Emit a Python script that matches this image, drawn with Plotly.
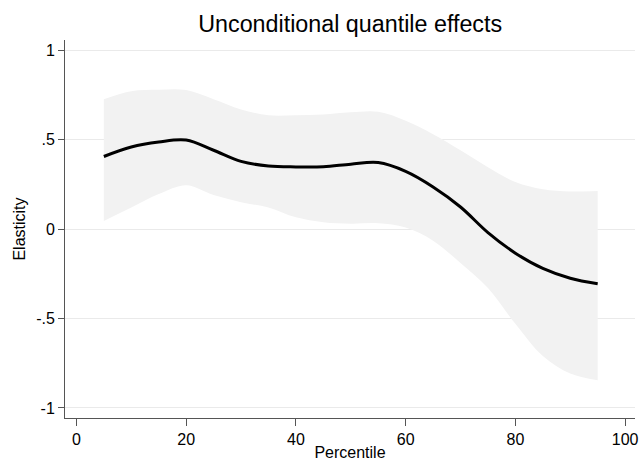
import plotly.graph_objects as go

# Data
percentile = [5, 10, 15, 20, 25, 30, 35, 40, 45, 50, 55, 60, 65, 70, 75, 80, 85, 90, 95]
elasticity = [0.405, 0.458, 0.486, 0.497, 0.44, 0.378, 0.352, 0.347, 0.348, 0.362, 0.371, 0.322,
              0.235, 0.123, -0.02, -0.135, -0.22, -0.275, -0.306]
ci_upper = [0.725, 0.77, 0.778, 0.776, 0.725, 0.668, 0.635, 0.635, 0.64, 0.652, 0.655, 0.605,
            0.53, 0.44, 0.345, 0.262, 0.222, 0.21, 0.212]
ci_lower = [0.045, 0.12, 0.195, 0.245, 0.19, 0.15, 0.12, 0.065, 0.038, 0.03, 0.032, 0.008,
            -0.065, -0.19, -0.33, -0.53, -0.71, -0.808, -0.845]

y_tickvals = [-1, -0.5, 0, 0.5, 1]
y_ticktext = ["-1", "-.5", "0", ".5", "1"]
x_tickvals = [0, 20, 40, 60, 80, 100]
x_ticktext = ["0", "20", "40", "60", "80", "100"]

FONT = "Liberation Sans, Arial, sans-serif"

fig = go.Figure()
fig.add_trace(go.Scatter(x=percentile, y=ci_lower, mode="lines",
                         line=dict(width=0, shape="spline", smoothing=1.0),
                         hoverinfo="skip", showlegend=False))
fig.add_trace(go.Scatter(x=percentile, y=ci_upper, mode="lines",
                         line=dict(width=0, shape="spline", smoothing=1.0),
                         fill="tonexty", fillcolor="#f2f2f2",
                         hoverinfo="skip", showlegend=False))
fig.add_trace(go.Scatter(x=percentile, y=elasticity, mode="lines",
                         line=dict(color="black", width=3, shape="spline", smoothing=1.0),
                         showlegend=False))

fig.update_layout(
    width=639, height=461,
    margin=dict(l=65, r=4, t=40, b=43),
    paper_bgcolor="white", plot_bgcolor="white",
    font=dict(family=FONT, color="black"),
    title=dict(text="Unconditional quantile effects", x=0.548, xanchor="center",
               y=0.948, yanchor="middle", font=dict(size=23.3, family=FONT, color="black")),
    xaxis=dict(range=[-2.08, 101.8], tickvals=x_tickvals, ticktext=x_ticktext,
               showgrid=False, zeroline=False, showline=True, linecolor="#555555", linewidth=1,
               ticks="outside", ticklen=7, tickcolor="#555555", tickwidth=1, automargin=False,
               tickfont=dict(size=16, family=FONT, color="black"),
               title=dict(text="Percentile", font=dict(size=16, family=FONT, color="black"), standoff=0)),
    yaxis=dict(range=[-1.056, 1.056], tickvals=y_tickvals, ticktext=y_ticktext,
               showgrid=True, gridcolor="#eaeaea", gridwidth=1, zeroline=False,
               showline=True, linecolor="#555555", linewidth=1, automargin=False,
               ticks="outside", ticklen=6, tickcolor="#555555", tickwidth=1,
               tickfont=dict(size=16, family=FONT, color="black"),
               title=dict(text="Elasticity", font=dict(size=16, family=FONT, color="black"), standoff=6)),
)

fig.write_html("out.html", config={"displayModeBar": False},
               post_script="document.body.style.margin='0';document.body.style.overflow='hidden';")
